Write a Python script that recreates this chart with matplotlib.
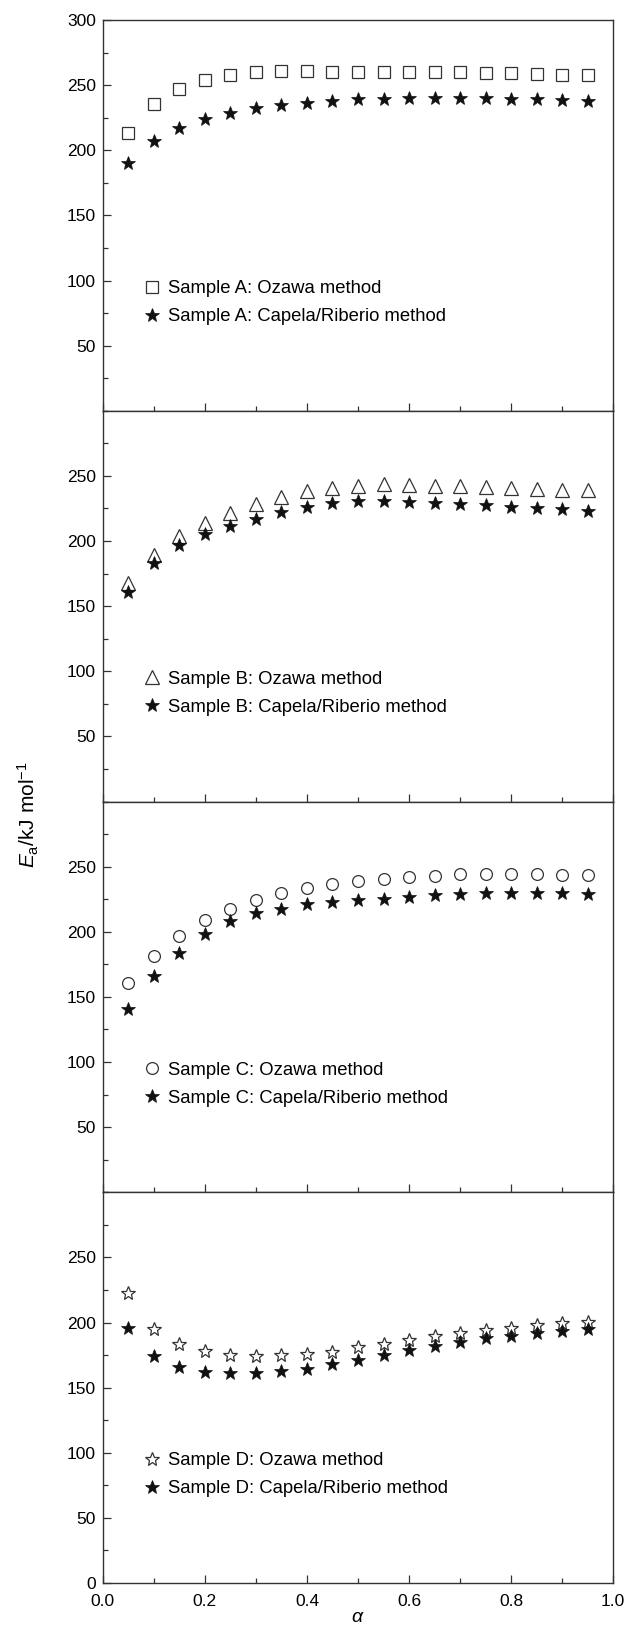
import numpy as np
import matplotlib
matplotlib.use("Agg")
import matplotlib.pyplot as plt
from matplotlib.ticker import MultipleLocator

plt.rcParams['font.family'] = ['Liberation Sans', 'DejaVu Sans']
plt.rcParams['mathtext.fontset'] = 'custom'
plt.rcParams['mathtext.rm'] = 'Liberation Sans'
plt.rcParams['mathtext.it'] = 'Liberation Sans:italic'

alpha = [0.05, 0.10, 0.15, 0.20, 0.25, 0.30, 0.35, 0.40, 0.45, 0.50,
         0.55, 0.60, 0.65, 0.70, 0.75, 0.80, 0.85, 0.90, 0.95]

# sample A
a_ozawa = [213.5, 235.2, 246.7, 253.7, 257.8, 260.0, 260.8, 260.8, 260.3, 260.0,
           259.8, 259.8, 259.8, 259.8, 259.5, 259.5, 258.5, 257.8, 257.5]
a_capela = [190.4, 207.3, 217.3, 224.0, 228.8, 232.2, 235.0, 236.0, 237.8, 239.0,
            239.6, 239.8, 239.8, 239.8, 239.8, 239.3, 239.0, 238.3, 237.8]
# sample B
b_ozawa = [167.5, 189.3, 203.9, 214.1, 221.3, 228.2, 234.1, 238.5, 241.0, 242.6,
           243.6, 242.8, 242.3, 242.0, 241.3, 240.8, 240.0, 239.2, 239.2]
b_capela = [161.1, 183.4, 197.0, 205.2, 211.3, 217.0, 222.0, 226.4, 229.0, 230.8,
            231.0, 230.0, 229.0, 228.5, 227.7, 226.4, 225.7, 224.6, 223.1]
# sample C
c_ozawa = [160.6, 181.4, 196.5, 209.0, 217.2, 224.6, 230.0, 233.9, 236.4, 238.7,
           240.5, 242.1, 243.1, 244.1, 244.6, 244.6, 244.1, 243.9, 243.9]
c_capela = [140.4, 166.0, 183.4, 198.5, 208.0, 214.1, 217.2, 221.1, 223.1, 224.4,
            225.4, 227.0, 228.2, 229.3, 230.0, 230.0, 230.0, 229.8, 229.0]
# sample D
d_ozawa = [222.4, 194.8, 183.5, 178.2, 175.4, 174.6, 174.8, 176.1, 177.7, 181.2,
           183.8, 186.6, 189.4, 192.2, 194.3, 196.1, 197.9, 199.6, 200.7]
d_capela = [195.6, 174.1, 165.9, 162.3, 161.0, 161.6, 162.6, 164.6, 168.0, 171.5,
            175.4, 178.7, 182.3, 185.3, 188.1, 189.9, 192.2, 193.5, 195.0]

samples = ["A", "B", "C", "D"]
ozawa = [a_ozawa, b_ozawa, c_ozawa, d_ozawa]
capela = [a_capela, b_capela, c_capela, d_capela]
open_markers = ["s", "^", "o", "*"]
open_sizes = [8.5, 10, 8.5, 10.5]

fig, axes = plt.subplots(4, 1, figsize=(6.27, 16.29), dpi=100, sharex=True)
fig.subplots_adjust(left=0.164, right=0.978, top=0.9877, bottom=0.0282, hspace=0)

for i, ax in enumerate(axes):
    ax.plot(alpha, ozawa[i], linestyle="none", marker=open_markers[i],
            markersize=open_sizes[i], markerfacecolor="white",
            markeredgecolor="#333333", markeredgewidth=0.9,
            label="Sample %s: Ozawa method" % samples[i])
    ax.plot(alpha, capela[i], linestyle="none", marker="*", markersize=10.5,
            color="#111111", markeredgewidth=0.5,
            label="Sample %s: Capela/Riberio method" % samples[i])

    ax.set_xlim(0, 1.0)
    ax.set_ylim(0, 300)
    if i == 0:
        ax.set_yticks([50, 100, 150, 200, 250, 300])
    elif i == 3:
        ax.set_yticks([0, 50, 100, 150, 200, 250])
    else:
        ax.set_yticks([50, 100, 150, 200, 250])
    ax.yaxis.set_minor_locator(MultipleLocator(25))
    ax.xaxis.set_major_locator(MultipleLocator(0.2))
    ax.xaxis.set_minor_locator(MultipleLocator(0.1))
    ax.tick_params(which="both", direction="in", top=False, right=False,
                   labelsize=12.5, width=0.9, color="#333333")
    ax.tick_params(which="major", length=6, pad=5)
    ax.tick_params(which="minor", length=3.5)
    ax.tick_params(axis="x", pad=8)
    for s in ax.spines.values():
        s.set_linewidth(1.0)
        s.set_color("#333333")

    ax.legend(loc="center left", bbox_to_anchor=(0.06, 0.277), frameon=False,
              fontsize=13.3, handletextpad=0.35, labelspacing=0.6,
              handlelength=1.0, borderpad=0)

axes[3].xaxis.set_major_formatter(plt.FuncFormatter(lambda v, p: "%.1f" % v))
axes[3].set_xlabel(r"$\alpha$", fontsize=14, labelpad=0)
fig.text(0.045, 0.5, r"$E_\mathrm{a}$/kJ mol$^{-1}$", rotation=90,
         ha="center", va="center", fontsize=15)

fig.savefig("out.png", dpi=100)
